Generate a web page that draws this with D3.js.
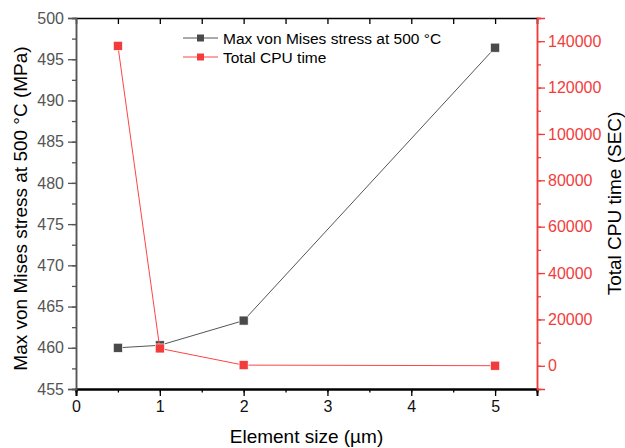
<!DOCTYPE html>
<html>
<head>
<meta charset="utf-8">
<script src="https://cdn.jsdelivr.net/npm/d3@7"></script>
<style>
  body { margin: 0; background: #fff; }
  svg { font-family: "Liberation Sans", Arial, sans-serif; }
</style>
</head>
<body>
<svg width="625" height="448"></svg>
<script>
// element size (um)
let sizes = [0.5, 1, 2, 5];
// max von Mises stress at 500 C (MPa)
let stress = [460.0, 460.3, 463.3, 496.4];
// total CPU time (SEC)
let cpuTime = [138000, 7500, 300, 50];

let xTicks = [0, 1, 2, 3, 4, 5],
    yLeftTicks = [455, 460, 465, 470, 475, 480, 485, 490, 495, 500],
    yRightTicks = [0, 20000, 40000, 60000, 80000, 100000, 120000, 140000];

let margin = {left: 76, top: 18, right: 88, bottom: 59},
    width = 625 - margin.left - margin.right,
    height = 448 - margin.top - margin.bottom;

let grey = '#555555', red = '#f23c3c', dark = '#4a4a4a';

let svg = d3.select('svg');
let chart = svg.append('g')
    .attr('transform', `translate(${margin.left},${margin.top})`);

let xScale = d3.scaleLinear().domain([0, 5.5]).range([0, width]),
    yLeft = d3.scaleLinear().domain([455, 500]).range([height, 0]),
    yRight = d3.scaleLinear().domain([-10000, 150000]).range([height, 0]);

let minorX = d3.range(0, 5.51, 0.5),
    minorL = d3.range(455, 500.1, 2.5),
    minorR = d3.range(-10000, 150001, 10000);

// minor ticks first, then major ticks with labels
function styleAxis(g, color, width) {
    g.select('.domain').attr('stroke', color).attr('stroke-width', width);
    g.selectAll('.tick line').attr('stroke', color).attr('stroke-width', 1.3);
    g.selectAll('.tick text').attr('fill', color).style('font-size', '16px');
}

// bottom
chart.append('g')
    .attr('transform', `translate(0,${height})`)
    .call(d3.axisBottom(xScale).tickValues(minorX).tickSize(3.5).tickFormat(''))
    .call(g => styleAxis(g, '#000', 2));
chart.append('g')
    .attr('transform', `translate(0,${height})`)
    .call(d3.axisBottom(xScale).tickValues(xTicks).tickSize(7).tickPadding(5).tickFormat(d3.format('d')))
    .call(g => styleAxis(g, '#000', 2))
    .call(g => g.selectAll('.tick text').attr('fill', '#111'));

// top (mirror, inward ticks)
chart.append('g')
    .call(d3.axisTop(xScale).tickValues(minorX.filter(d => d > 0)).tickSize(-6).tickFormat(''))
    .call(g => styleAxis(g, '#000', 1.5));

// left
chart.append('g')
    .call(d3.axisLeft(yLeft).tickValues(minorL).tickSize(4).tickFormat(''))
    .call(g => styleAxis(g, grey, 1.5));
chart.append('g')
    .call(d3.axisLeft(yLeft).tickValues(yLeftTicks).tickSize(8).tickPadding(4).tickFormat(d3.format('d')))
    .call(g => styleAxis(g, grey, 1.5));

// right
chart.append('g')
    .attr('transform', `translate(${width},0)`)
    .call(d3.axisRight(yRight).tickValues(minorR).tickSize(4).tickFormat(''))
    .call(g => styleAxis(g, red, 1.5));
chart.append('g')
    .attr('transform', `translate(${width},0)`)
    .call(d3.axisRight(yRight).tickValues(yRightTicks).tickSize(8).tickPadding(3).tickFormat(d3.format('d')))
    .call(g => styleAxis(g, red, 1.5));

// series
let series = [
    {name: 'Max von Mises stress at 500 °C', values: stress, scale: yLeft, color: dark, line: '#555'},
    {name: 'Total CPU time', values: cpuTime, scale: yRight, color: red, line: '#ff4444'}
];

series.forEach(s => {
    let pts = sizes.map((d, i) => [d, s.values[i]]);
    chart.append('path')
        .datum(pts)
        .attr('fill', 'none')
        .attr('stroke', s.line)
        .attr('stroke-width', 1)
        .attr('d', d3.line().x(d => xScale(d[0])).y(d => s.scale(d[1])));
    chart.selectAll()
        .data(pts)
        .enter()
        .append('rect')
        .attr('x', d => xScale(d[0]) - 4.5)
        .attr('y', d => s.scale(d[1]) - 4.5)
        .attr('width', 9)
        .attr('height', 9)
        .attr('fill', s.color)
        .attr('stroke', '#fff')
        .attr('stroke-width', 0.6);
});

// legend
let legend = svg.append('g').attr('transform', 'translate(183,38)');
series.forEach((s, i) => {
    let row = legend.append('g').attr('transform', `translate(0,${i * 19})`);
    row.append('line')
        .attr('x1', 0).attr('x2', 35)
        .attr('stroke', s.line).attr('stroke-width', 1);
    row.append('rect')
        .attr('x', 14).attr('y', -3.5).attr('width', 7).attr('height', 7)
        .attr('fill', s.color);
    row.append('text')
        .attr('x', 40).attr('y', 5.5)
        .style('font-size', '15.5px')
        .attr('fill', '#000')
        .text(s.name);
});

// axis titles
svg.append('text')
    .attr('x', margin.left + width / 2)
    .attr('y', 443)
    .attr('text-anchor', 'middle')
    .style('font-size', '19px')
    .text('Element size (µm)');

svg.append('text')
    .attr('transform', `translate(27,${margin.top + height / 2 + 5}) rotate(-90)`)
    .attr('text-anchor', 'middle')
    .style('font-size', '19px')
    .text('Max von Mises stress at 500 °C (MPa)');

svg.append('text')
    .attr('transform', `translate(621,${margin.top + height / 2}) rotate(-90)`)
    .attr('text-anchor', 'middle')
    .style('font-size', '19px')
    .text('Total CPU time (SEC)');
</script>
</body>
</html>
